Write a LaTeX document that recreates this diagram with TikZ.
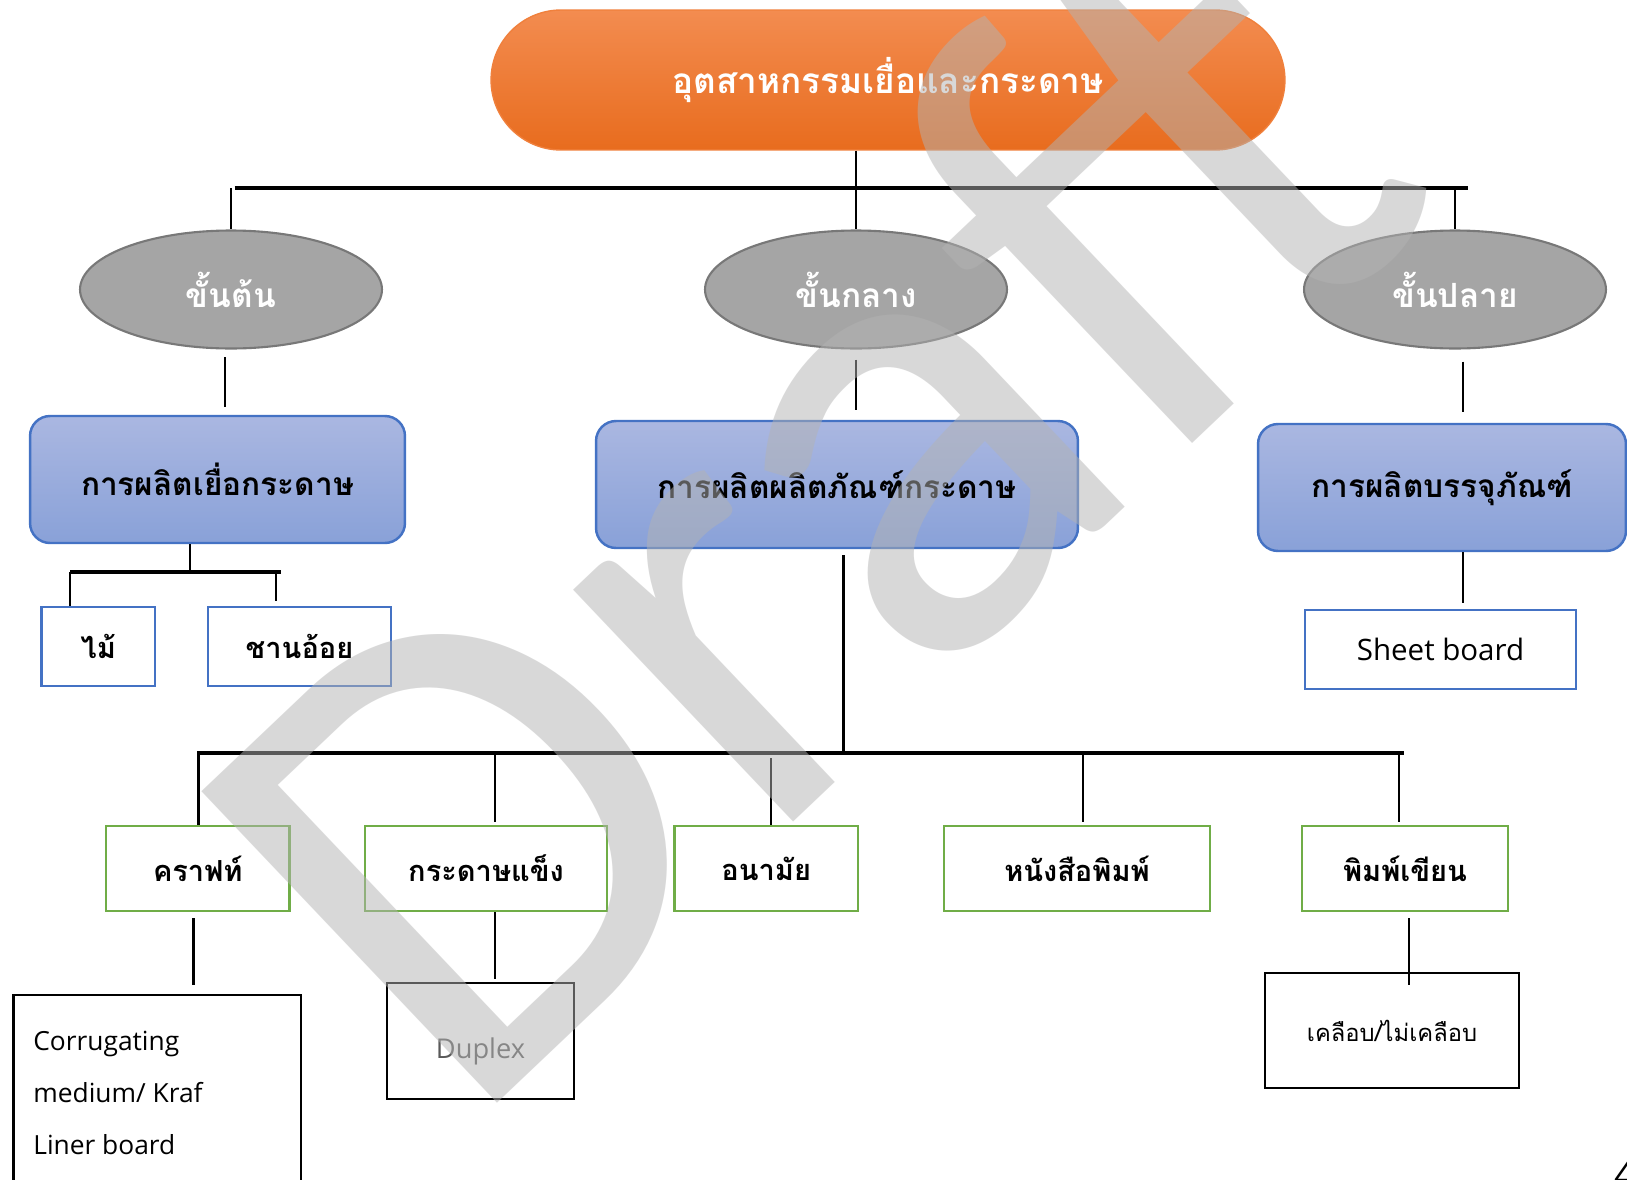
\documentclass[tikz,border=0pt]{standalone}
\usepackage{fontspec}
\setmainfont{Open Sans}
\newfontfamily\thai[Script=Thai]{Loma}
\newfontfamily\wmfont{Carlito}
\usetikzlibrary{calc,shapes.geometric}
\definecolor{orTop}{RGB}{243,140,80}
\definecolor{orBot}{RGB}{232,108,30}
\definecolor{orLine}{RGB}{240,128,60}
\definecolor{elFill}{RGB}{165,165,165}
\definecolor{elLine}{RGB}{120,120,120}
\definecolor{blTop}{RGB}{170,183,225}
\definecolor{blBot}{RGB}{137,161,216}
\definecolor{blLine}{RGB}{68,114,196}
\definecolor{grLine}{RGB}{112,173,71}
\definecolor{wmGray}{RGB}{179,179,179}
\definecolor{dupText}{RGB}{89,89,89}
\begin{document}
\begin{tikzpicture}[x=0.02cm,y=-0.02cm,
  topnode/.style={rectangle, rounded corners=1.4cm, draw=orLine, line width=0.8pt,
    top color=orTop, bottom color=orBot, text=white, inner sep=0,
    font=\thai\bfseries\fontsize{20}{24}\selectfont},
  stage/.style={ellipse, draw=elLine, line width=1.2pt, fill=elFill, text=white,
    minimum width=6.04cm, minimum height=2.36cm, inner sep=0,
    font=\thai\bfseries\fontsize{19}{23}\selectfont},
  proc/.style={rectangle, rounded corners=0.4cm, draw=blLine, line width=1.4pt,
    top color=blTop, bottom color=blBot, minimum height=2.54cm, inner sep=0,
    font=\thai\bfseries\fontsize{18}{22}\selectfont},
  bluebox/.style={rectangle, draw=blLine, line width=1.4pt, fill=white,
    minimum height=1.58cm, inner sep=0, font=\thai\bfseries\fontsize{16.5}{20}\selectfont},
  greenbox/.style={rectangle, draw=grLine, line width=1.4pt, fill=white,
    minimum height=1.7cm, inner sep=0, font=\thai\bfseries\fontsize{16.5}{20}\selectfont},
  blackbox/.style={rectangle, draw=black, line width=1.4pt, fill=white, inner sep=0},
  conn/.style={draw=black, line width=1.6pt},
  bus/.style={draw=black, line width=2pt},
]
\useasboundingbox (0,0) rectangle (1627,1180);
\fill[white] (0,0) rectangle (1627,1180);

% top
\node[topnode, minimum width=15.88cm, minimum height=2.8cm] (top) at (888,80) {อุตสาหกรรมเยื่อและกระดาษ};

% stages
\node[stage] (e1) at (231,289.5) {ขั้นต้น};
\node[stage] (e2) at (856,289.5) {ขั้นกลาง};
\node[stage] (e3) at (1455,289.5) {ขั้นปลาย};

% process boxes
\node[proc, minimum width=7.5cm] (b1) at (217.5,479.5) {การผลิตเยื่อกระดาษ};
\node[proc, minimum width=9.64cm] (b2) at (837,484.5) {การผลิตผลิตภัณฑ์กระดาษ};
\node[proc, minimum width=7.36cm] (b3) at (1442,487.5) {การผลิตบรรจุภัณฑ์};

% raw materials
\node[bluebox, minimum width=2.27cm] (s1) at (98.25,646.5) {ไม้};
\node[bluebox, minimum width=3.66cm] (s2) at (299.5,646.5) {ชานอ้อย};
\node[bluebox, minimum width=5.42cm, font=\fontsize{16.8}{20}\selectfont] (sb) at (1440.5,649.5) {Sheet board};

% products
\node[greenbox, minimum width=3.67cm] (g1) at (197.75,868.5) {คราฟท์};
\node[greenbox, minimum width=4.84cm] (g2) at (486,868.5) {กระดาษแข็ง};
\node[greenbox, minimum width=3.67cm] (g3) at (766.25,868.5) {อนามัย};
\node[greenbox, minimum width=5.32cm] (g4) at (1077,868.5) {หนังสือพิมพ์};
\node[greenbox, minimum width=4.12cm] (g5) at (1405,868.5) {พิมพ์เขียน};

% sub products
\node[blackbox, minimum width=5.75cm, minimum height=4.1cm] (c1) at (157.25,1097.5) {};
\node[anchor=west, align=left, inner sep=0, font=\fontsize{15}{29.6}\selectfont] (c1t) at (33,1093) {Corrugating\\medium/ Kraf\\Liner board};
\node[blackbox, minimum width=3.74cm, minimum height=2.32cm, text=dupText, font=\fontsize{15.5}{19}\selectfont] (d1) at (480.5,1041) {\raisebox{-0.2cm}[\height][\depth]{Duplex}};
\node[blackbox, minimum width=5.08cm, minimum height=2.3cm, font=\thai\fontsize{13.5}{17}\selectfont] (k1) at (1392,1030.5) {เคลือบ/ไม่เคลือบ};

% page number
\node[anchor=north west, inner sep=0, font=\fontsize{22}{26}\selectfont] (pg) at (1614,1160) {4};

% connectors top level
\coordinate (busL) at (234.5,188);
\coordinate (busR) at (1468,188);
\draw[conn] (top.south -| e2.north) -- (e2.north |- busL);
\draw[bus] (busL) -- (busR);
\draw[conn] (e1.north |- busL) -- (e1.north);
\draw[conn] (e2.north |- busL) -- (e2.north);
\draw[conn] (e3.north |- busL) -- (e3.north);

% stage to process
\draw[conn, shorten <=0.15cm, shorten >=0.16cm] ($(e1.south)+(-6,0)$) -- ($(e1.south |- b1.north)+(-6,0)$);
\draw[conn, shorten <=0.2cm, shorten >=0.2cm] (e2.south) -- (e2.south |- b2.north);
\draw[conn, shorten <=0.24cm, shorten >=0.22cm] ($(e3.south)+(8,0)$) -- ($(e3.south |- b3.north)+(8,0)$);

% left branch
\coordinate (lbL) at (70,572);
\coordinate (lbM) at (190,572);
\coordinate (lbR) at (281,572);
\coordinate (lbR2) at (276,572);
\draw[conn] (lbM |- b1.south) -- (lbM);
\draw[bus] (lbL) -- (lbR);
\draw[conn] (lbL) -- (lbL |- s1.north);
\draw[conn, shorten >=0.1cm] (lbR2) -- (lbR2 |- s2.north);

% right branch
\draw[conn, shorten >=0.12cm] ($(b3.south)+(21,0)$) -- ($(b3.south |- sb.north)+(21,0)$);

% middle branch
\coordinate (mbL) at (197,753);
\coordinate (mbR) at (1404,753);
\draw[conn, shorten <=0.12cm] ($(b2.south)+(6.5,0)$) -- ($(b2.south |- mbL)+(6.5,0)$);
\draw[bus] (mbL) -- (mbR);
\draw[conn] ($(g1.north |- mbL)+(1,0)$) -- ($(g1.north)+(1,0)$);
\draw[conn, shorten >=0.06cm] ($(g2.north |- mbL)+(9,0)$) -- ($(g2.north)+(9,0)$);
\draw[conn, shorten <=0.1cm] ($(g3.north |- mbL)+(4.75,0)$) -- ($(g3.north)+(4.75,0)$);
\draw[conn, shorten >=0.06cm] ($(g4.north |- mbL)+(6,0)$) -- ($(g4.north)+(6,0)$);
\draw[conn, shorten >=0.06cm] ($(g5.north |- mbL)+(-6,0)$) -- ($(g5.north)+(-6,0)$);

% product to sub product
\draw[conn, shorten <=0.12cm, shorten >=0.18cm] ($(g1.south)+(-4,0)$) -- ($(g1.south |- c1.north)+(-4,0)$);
\draw[conn, shorten >=0.06cm] ($(g2.south)+(9,0)$) -- ($(g2.south |- d1.north)+(9,0)$);
\draw[conn, shorten <=0.12cm] ($(g5.south)+(4,0)$) -- ($(g5.south |- k1.north)+(4,13)$);

% watermark
\node[rotate=43.5, anchor=base west, inner sep=0, text=wmGray, text opacity=0.5,
  font=\wmfont\fontsize{381}{390}\selectfont] (wm) at (464,1135) {Draft};
\end{tikzpicture}
\end{document}
